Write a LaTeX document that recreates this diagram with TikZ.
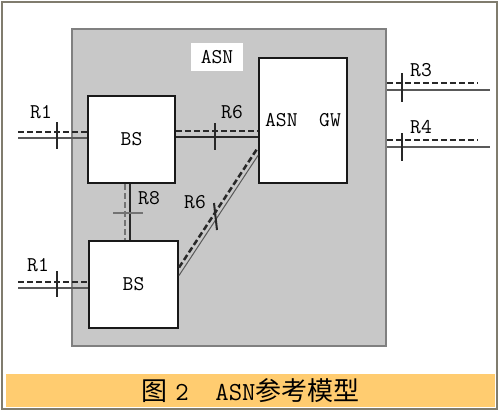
\documentclass[tikz,border=0pt]{standalone}
\usepackage{fontspec}
\newfontfamily\cjk{Noto Sans CJK SC}
\usepackage{xcolor}
\definecolor{areagray}{RGB}{200,200,200}
\definecolor{bandorange}{RGB}{255,204,112}
\definecolor{framegray}{RGB}{128,124,110}
\definecolor{linedark}{RGB}{40,40,40}

\begin{document}
\begin{tikzpicture}[x=1pt,y=-1pt,
  every node/.style={font=\ttfamily\fontsize{21}{21}\selectfont, inner sep=0pt},
  unit/.style={draw=black!90, line width=2pt, fill=white},
  sigdash/.style={linedark, line width=2.5pt, dash pattern=on 6pt off 3pt},
  sigline/.style={black!65, line width=1.5pt},
  cut/.style={linedark, line width=2pt}]
\useasboundingbox (0,0) rectangle (500,412);
\draw[framegray, line width=1.5pt] (2,2) rectangle (497,409);
\node[fill=bandorange, minimum width=489pt, minimum height=33pt,
  font=\fontsize{26}{26}\selectfont] (cap) at (250.5,390.5)
  {{\cjk 图}\ \texttt{2\ \ ASN}{\cjk 参考模型}};
% ASN area
\node[fill=areagray, draw=black!50, line width=1.5pt, minimum width=314pt, minimum height=317pt] (area) at (229,187.5) {};
\node[fill=white, minimum width=52pt, minimum height=28pt] (asn) at (217,57) {ASN};
\node[unit, minimum width=87pt, minimum height=87pt] (bs1) at (131.5,139.5) {BS};
\node[unit, minimum width=89pt, minimum height=87pt] (bs2) at (133.5,284.5) {BS};
\node[unit, minimum width=88pt, minimum height=125pt] (gw) at (303,120.5) {ASN\ \ GW};
% R1
\coordinate (r1a) at (18,132);
\coordinate (r1b) at (18,138);
\draw[sigdash] (r1a) -- (r1a -| bs1.west);
\draw[sigline] (r1b) -- (r1b -| bs1.west);
\draw[cut] (57,122) -- (57,149);
\node (r1t) at (41,112) {R1};
\coordinate (r1c) at (18,282);
\coordinate (r1d) at (18,288);
\draw[sigdash] (r1c) -- (r1c -| bs2.west);
\draw[sigline] (r1d) -- (r1d -| bs2.west);
\draw[cut] (57,271) -- (57,297);
\node (r1u) at (38,265) {R1};
% R6
\draw[sigdash] (bs1.east |- 0,131) -- (gw.west |- 0,131);
\draw[sigline, linedark] (bs1.east |- 0,137) -- (gw.west |- 0,137);
\draw[cut] (215,123) -- (215,150);
\node (r6t) at (232,112) {R6};
\draw[sigdash] ([yshift=17pt]bs2.east) -- ([yshift=-27pt]gw.west);
\draw[sigline, line width=1pt] ([yshift=9pt]bs2.east) -- ([yshift=-35pt]gw.west);
\draw[cut] (214,203) -- (217,230);
\node (r6u) at (195,202) {R6};
% R8
\draw[sigdash, black!55] (bs1.south -| 125,0) -- (bs2.north -| 125,0);
\draw[sigline, linedark] (bs1.south -| 130,0) -- (bs2.north -| 130,0);
\draw[cut, black!55, line width=1.5pt] (113,213) -- (143,213);
\node (r8t) at (149,198) {R8};
% R3, R4
\coordinate (r3a) at (478,83);
\coordinate (r3b) at (490,90);
\draw[sigdash] (area.east |- r3a) -- (r3a);
\draw[sigline] (area.east |- r3b) -- (r3b);
\draw[cut] (402,73) -- (402,102);
\node (r3t) at (421,70) {R3};
\coordinate (r4a) at (478,140);
\coordinate (r4b) at (490,147);
\draw[sigdash] (area.east |- r4a) -- (r4a);
\draw[sigline] (area.east |- r4b) -- (r4b);
\draw[cut] (402,133) -- (402,161);
\node (r4t) at (421,127) {R4};
\end{tikzpicture}
\end{document}
